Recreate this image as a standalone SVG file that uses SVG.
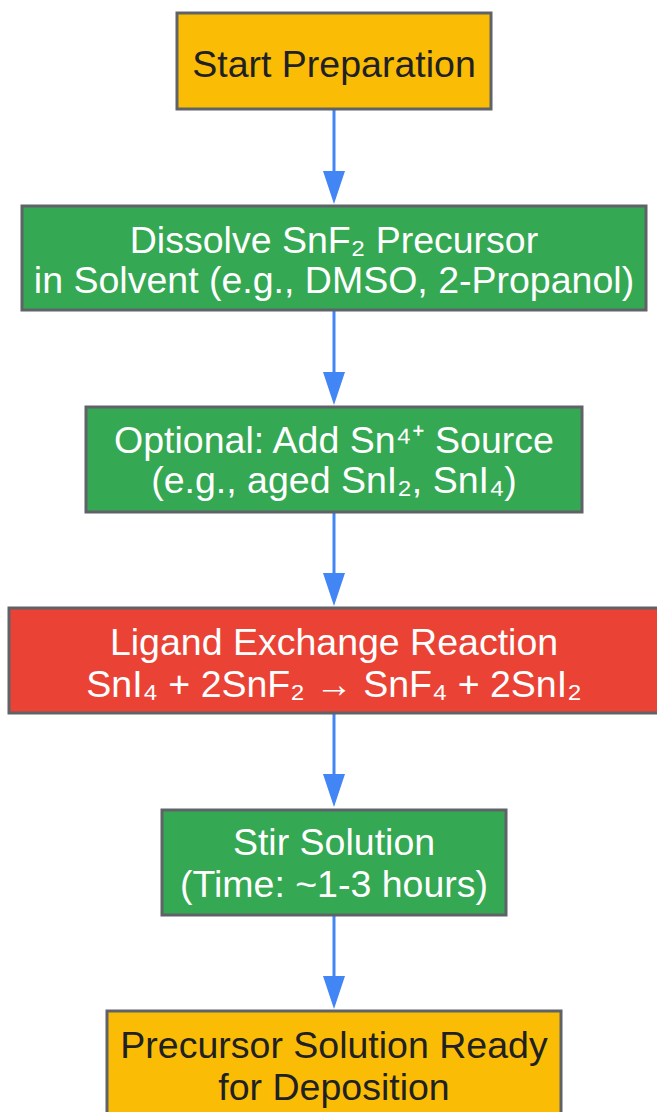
<svg xmlns="http://www.w3.org/2000/svg" width="657" height="1112" viewBox="0 0 657 1112">
<style>
.box{stroke:#5f6368;stroke-width:3}
.y{fill:#fbbc05}
.g{fill:#34a853}
.r{fill:#ea4335}
text{font-family:"Liberation Sans",Arial,sans-serif;font-size:37.5px;text-anchor:middle}
.dk{fill:#202124}
.wt{fill:#ffffff}
.edge{stroke:#4285f4;stroke-width:3;fill:none}
.head{fill:#4285f4}
</style>
<rect width="657" height="1112" fill="#ffffff"/>
<g id="edges">
<line class="edge" x1="334" y1="109" x2="334" y2="172"/>
<polygon class="head" points="323,171 345,171 334,204"/>
<line class="edge" x1="334" y1="310" x2="334" y2="373"/>
<polygon class="head" points="323,372 345,372 334,405"/>
<line class="edge" x1="334" y1="512" x2="334" y2="574"/>
<polygon class="head" points="323,573 345,573 334,606"/>
<line class="edge" x1="334" y1="713" x2="334" y2="775"/>
<polygon class="head" points="323,774 345,774 334,807"/>
<line class="edge" x1="334" y1="915" x2="334" y2="977"/>
<polygon class="head" points="323,976 345,976 334,1009"/>
</g>
<g id="n1">
<rect class="box y" x="177" y="13" width="314" height="96"/>
<text class="dk" x="334" y="77">Start Preparation</text>
</g>
<g id="n2">
<rect class="box g" x="22" y="206" width="624" height="104"/>
<text class="wt" x="334" y="253">Dissolve SnF₂ Precursor</text>
<text class="wt" x="334" y="293">in Solvent (e.g., DMSO, 2-Propanol)</text>
</g>
<g id="n3">
<rect class="box g" x="86" y="407" width="496" height="105"/>
<text class="wt" x="334" y="453">Optional: Add Sn⁴⁺ Source</text>
<text class="wt" x="334" y="493">(e.g., aged SnI₂, SnI₄)</text>
</g>
<g id="n4">
<rect class="box r" x="9" y="608" width="652" height="105"/>
<text class="wt" x="334" y="655">Ligand Exchange Reaction</text>
<text class="wt" x="334" y="697">SnI₄ + 2SnF₂ → SnF₄ + 2SnI₂</text>
</g>
<g id="n5">
<rect class="box g" x="162" y="810" width="344" height="105"/>
<text class="wt" x="334" y="855">Stir Solution</text>
<text class="wt" x="334" y="897">(Time: ~1-3 hours)</text>
</g>
<g id="n6">
<rect class="box y" x="107" y="1011" width="454" height="110"/>
<text class="dk" x="334" y="1058">Precursor Solution Ready</text>
<text class="dk" x="334" y="1100">for Deposition</text>
</g>
</svg>
